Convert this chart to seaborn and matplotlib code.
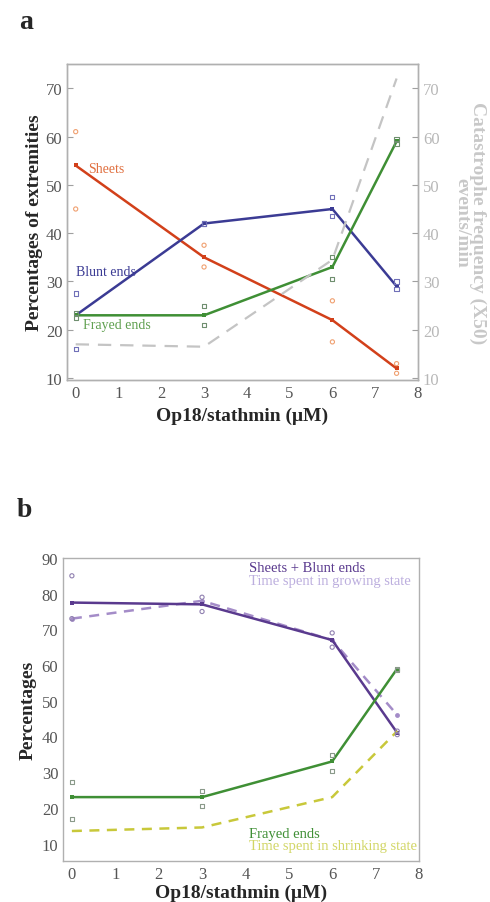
import matplotlib
matplotlib.use("Agg")
import matplotlib.pyplot as plt
import seaborn as sns

# concentrations of Op18/stathmin (uM)
conc = [0, 3, 6, 7.5]
conc_rep = [0, 0, 3, 3, 6, 6, 7.5, 7.5]

# panel a: percentages of extremities
sheets = [54, 35, 22, 12]
blunt = [23, 42, 45, 29]
frayed = [23, 23, 33, 59]
catastrophe = [17, 16.5, 34.5, 72]  # events/min x50, right axis

sheets_rep = [61, 45, 37.5, 33, 26, 17.5, 13, 11]
blunt_rep = [27.5, 16, 42, 42, 47.5, 43.5, 30, 28.5]
frayed_rep = [23.5, 22.5, 25, 21, 35, 30.5, 59.5, 58.5]

# panel b
sheets_blunt = [77.5, 77, 67, 41]
growing = [73, 78, 67, 46]
shrinking = [13.5, 14.5, 23, 41.5]

sheets_blunt_rep = [85, 73, 79, 75, 69, 65, 41.5, 40.5]
frayed_b_rep = [27.3, 16.8, 24.8, 20.6, 34.9, 30.4, 59, 58.5]

a_ticks = [10, 20, 30, 40, 50, 60, 70]
b_ticks = [10, 20, 30, 40, 50, 60, 70, 80, 90]
x_ticks = [0, 1, 2, 3, 4, 5, 6, 7, 8]


def style_axes(ax):
    for s in ax.spines.values():
        s.set_color("#b0b0b0")
        s.set_linewidth(1.0)
    ax.tick_params(direction="in", length=4, color="#a0a0a0",
                   labelcolor="#555555", labelsize=12, width=0.8)


def line(ax, y, color, ls="-", marker="s"):
    sns.lineplot(x=conc, y=y, ax=ax, color=color, linewidth=1.8,
                 linestyle=ls, marker=marker, markersize=3.5,
                 markeredgewidth=0, legend=False)


def reps(ax, y, color, marker="o"):
    sns.scatterplot(x=conc_rep, y=y, ax=ax, marker=marker, s=9,
                    facecolor="none", edgecolor=color, linewidth=0.8,
                    legend=False, zorder=3)


def main():
    sns.set_style("white")
    plt.rcParams["font.family"] = ["Liberation Serif", "DejaVu Serif"]
    plt.rcParams["mathtext.fontset"] = "stix"

    fig = plt.figure(figsize=(4.9, 9.03), dpi=100)
    ax_a = fig.add_axes([0.137, 0.578, 0.716, 0.350])
    ax_b = fig.add_axes([0.129, 0.045, 0.726, 0.336])

    # ---- panel a ----
    red, blue, green = "#d2401a", "#3b3b94", "#3f8f35"
    reps(ax_a, sheets_rep, "#f0a070")
    reps(ax_a, blunt_rep, "#7070b8", marker="s")
    reps(ax_a, frayed_rep, "#6f8f6f", marker="s")
    line(ax_a, sheets, red)
    line(ax_a, blunt, blue)
    line(ax_a, frayed, green)

    ax_a.set_xlim(-0.2, 8)
    ax_a.set_ylim(9.6, 75)
    ax_a.set_yticks(a_ticks)
    ax_a.set_xticks(x_ticks)
    style_axes(ax_a)
    ax_a.set_xlabel("Op18/stathmin (\u03bcM)", fontsize=14, fontweight="bold")
    ax_a.set_ylabel("Percentages of extremities", fontsize=14,
                    fontweight="bold", labelpad=2)

    ax_r = ax_a.twinx()
    sns.lineplot(x=conc, y=catastrophe, ax=ax_r, color="#c4c4c4",
                 linewidth=1.6, dashes=(6, 4), legend=False)
    ax_r.lines[0].set_linestyle((0, (6, 4)))
    ax_r.set_ylim(9.6, 75)
    ax_r.set_yticks(a_ticks)
    style_axes(ax_r)
    ax_r.tick_params(labelcolor="#b8b8b8")
    ax_r.set_ylabel("Catastrophe frequency (X50)\nevents/min", rotation=270,
                    fontsize=14, fontweight="bold", color="#c8c8c8",
                    labelpad=34, linespacing=0.9)

    ax_a.text(0.3, 53.3, "Sheets", color="#e07040", fontsize=10,
              va="center")
    ax_a.text(0.0, 32.1, "Blunt ends", color=blue, fontsize=10,
              va="center")
    ax_a.text(0.17, 21, "Frayed ends", color="#60a050", fontsize=10,
              va="center")

    fig.text(0.04, 0.975, "a", fontsize=20, fontweight="bold", va="center")

    # ---- panel b ----
    purple, lpurple, yellow = "#5a3a8e", "#a48cc8", "#c8c83a"
    reps(ax_b, sheets_blunt_rep, "#9080b0")
    reps(ax_b, frayed_b_rep, "#8a9a8a", marker="s")
    line(ax_b, growing, lpurple, ls="--", marker="o")
    line(ax_b, sheets_blunt, purple)
    line(ax_b, frayed, green)
    line(ax_b, shrinking, yellow, ls="--", marker=None)
    for ln in ax_b.lines:
        if ln.get_linestyle() == "--":
            ln.set_linestyle((0, (4, 3)))

    ax_b.set_xlim(-0.2, 8)
    ax_b.set_ylim(5, 90)
    ax_b.set_yticks(b_ticks)
    ax_b.set_xticks(x_ticks)
    style_axes(ax_b)
    ax_b.set_xlabel("Op18/stathmin (\u03bcM)", fontsize=14,
                    fontweight="bold", labelpad=1)
    ax_b.set_ylabel("Percentages", fontsize=14, fontweight="bold",
                    labelpad=4)

    ax_b.text(4.09, 87.4, "Sheets + Blunt ends", color=purple, fontsize=10.5,
              va="center")
    ax_b.text(4.09, 83.8, "Time spent in growing state", color="#bcaede",
              fontsize=10.5, va="center")
    ax_b.text(4.09, 12.8, "Frayed ends", color=green, fontsize=10.5,
              va="center")
    ax_b.text(4.09, 9.4, "Time spent in shrinking state", color="#d2d666",
              fontsize=10.5, va="center")

    fig.text(0.035, 0.435, "b", fontsize=20, fontweight="bold", va="center")

    fig.savefig("out.png", dpi=100)
    return 0


if __name__ == "__main__":
    raise SystemExit(main())
